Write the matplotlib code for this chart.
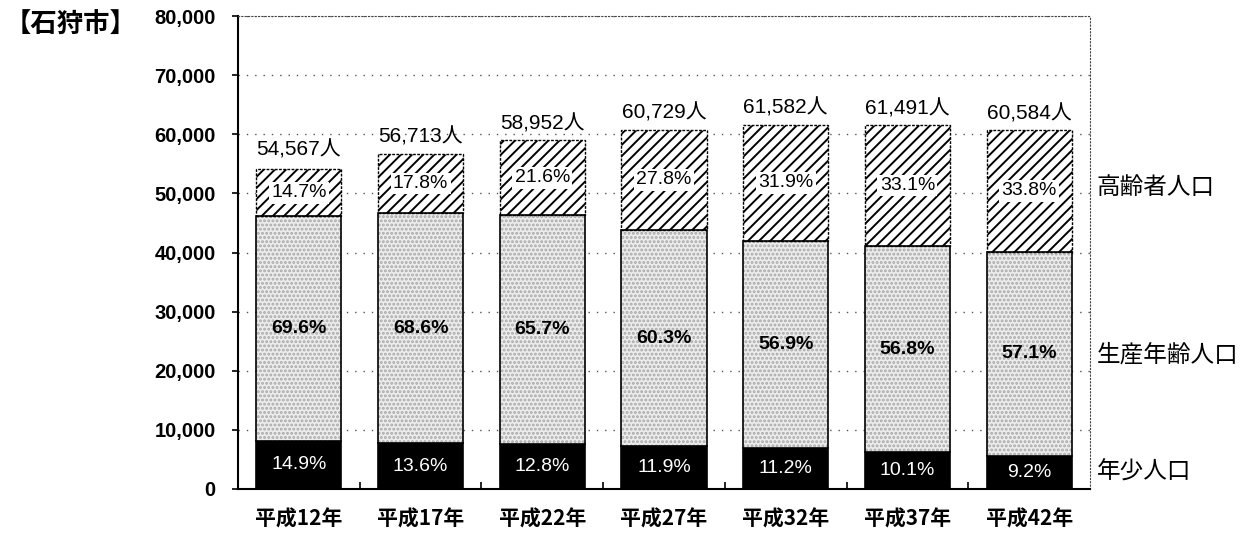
import numpy as np
import matplotlib
matplotlib.use("Agg")
import matplotlib.pyplot as plt

plt.rcParams['font.family'] = ['Liberation Sans', 'Noto Sans CJK JP', 'DejaVu Sans']
plt.rcParams['hatch.linewidth'] = 1.4

years = ["平成12年", "平成17年", "平成22年", "平成27年", "平成32年", "平成37年", "平成42年"]
totals = [54567, 56713, 58952, 60729, 61582, 61491, 60584]
child_pct = [14.9, 13.6, 12.8, 11.9, 11.2, 10.1, 9.2]
work_pct = [69.6, 68.6, 65.7, 60.3, 56.9, 56.8, 57.1]
elder_pct = [14.7, 17.8, 21.6, 27.8, 31.9, 33.1, 33.8]
group_names = ["高齢者人口", "生産年齢人口", "年少人口"]

tot = np.array(totals, dtype=float)
child = tot * np.array(child_pct) / 100
work = tot * np.array(work_pct) / 100
elder = tot * np.array(elder_pct) / 100
x = np.arange(len(years))
w = 0.7

fig = plt.figure(figsize=(12.48, 5.34), dpi=100)
ax = fig.add_axes([0.1907, 0.0843, 0.6827, 0.8857])

# grid
for v in range(10000, 80001, 10000):
    ax.axhline(v, color='#555555', lw=1.0, ls=(0, (1, 5)), zorder=0)

ax.bar(x, child, w, color='black', edgecolor='black', lw=1.2, zorder=2)
ax.bar(x, work, w, bottom=child, color='#ececec', edgecolor='#a8a8a8', hatch='....', lw=0, zorder=2)
ax.bar(x, work, w, bottom=child, fill=False, edgecolor='black', lw=1.2, zorder=3)
ax.bar(x, elder, w, bottom=child + work, color='white', edgecolor='black', hatch='///', lw=1.0, ls=(0, (2, 1)), zorder=2)

for i in x:
    ax.text(i, child[i] / 2, f"{child_pct[i]}%", color='white', ha='center', va='center', fontsize=14, zorder=5)
    ax.text(i, child[i] + work[i] / 2, f"{work_pct[i]}%", color='black', ha='center', va='center',
            fontsize=14, fontweight='bold', zorder=5)
    ax.text(i, child[i] + work[i] + elder[i] / 2, f"{elder_pct[i]}%", color='black', ha='center', va='center',
            fontsize=14, zorder=5,
            bbox=dict(boxstyle='square,pad=0.12', facecolor='white', edgecolor='none'))
    ax.text(i, tot[i] + 1200, f"{totals[i]:,}人", ha='center', va='bottom', fontsize=15, zorder=5)

ax.set_xlim(-0.5, len(years) - 0.5)
ax.set_ylim(0, 80000)
ax.set_yticks(range(0, 80001, 10000))
ax.set_yticklabels([f"{v:,}" for v in range(0, 80001, 10000)], fontsize=14.5, fontweight='bold')
ax.tick_params(axis='y', length=4, width=1.2, pad=12)

ax.set_xticks(x)
ax.set_xticklabels(years, fontsize=15, fontweight='bold', family=['Noto Sans CJK JP'])
ax.set_xticks(np.arange(0.5, len(years) - 1, 1), minor=True)
ax.tick_params(axis='x', which='major', length=0, pad=14)
ax.tick_params(axis='x', which='minor', length=5, width=1.2, direction='in')

ax.spines['left'].set_linewidth(1.5)
ax.spines['bottom'].set_linewidth(1.5)
ax.spines['top'].set_linestyle((0, (1, 2)))
ax.spines['top'].set_color('#444444')
ax.spines['right'].set_linestyle((0, (1, 2)))
ax.spines['right'].set_color('#444444')

fig.text(0.004, 0.953, "【石狩市】", fontsize=19, fontweight='bold', family=['Noto Sans CJK JP'], va='center')
label_y = [0.648, 0.335, 0.115]
for name, yy in zip(group_names, label_y):
    fig.text(0.879, yy, name, fontsize=17, family=['Noto Sans CJK JP'], va='center')

fig.savefig("out.png", dpi=100)
